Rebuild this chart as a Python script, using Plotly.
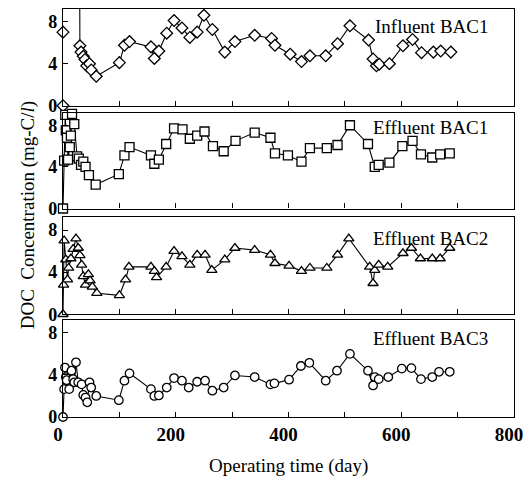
import plotly.graph_objects as go

# ---- data ----
inf1_iso_day = [0, 0]
inf1_iso_val = [0, 7.0]
inf1_day = [29, 30, 32, 36, 39, 42, 47, 50, 59, 100, 109, 118, 156, 162, 170, 184, 197, 211, 225, 238,
            250, 265, 287, 305, 340, 370, 376, 403, 423, 438, 466, 487, 509, 542, 550, 556, 561, 579,
            603, 620, 636, 657, 670, 688]
inf1_val = [20, 5.7, 5.1, 4.7, 4.4, 3.8, 4.0, 3.4, 2.8, 4.1, 5.75, 6.1, 5.6, 4.5, 5.2, 6.9, 8.1, 7.4, 6.5, 7.0,
            8.6, 7.25, 5.1, 6.1, 6.7, 6.4, 5.75, 4.9, 4.2, 4.75, 4.75, 5.9, 7.6, 6.25, 4.45, 3.8, 3.95, 4.0,
            5.7, 6.3, 5.05, 5.1, 5.2, 5.1]

eff1_day = [0, 2, 4, 5, 7, 9, 12, 14, 16, 20, 25, 28, 32, 36, 40, 46, 58, 99, 109, 118, 156, 162, 170,
            183, 197, 212, 225, 238, 251, 266, 285, 306, 340, 368, 376, 399, 423, 438, 468, 487, 509,
            541, 553, 560, 579, 602, 620, 635, 655, 669, 686]
eff1_val = [0, 4.6, 9.0, 7.5, 6.8, 4.7, 5.9, 7.0, 9.1, 8.1, 5.0, 4.8, 4.2, 4.5, 4.0, 3.2, 2.3, 3.3, 5.1, 5.9,
            5.1, 4.3, 4.7, 6.2, 7.7, 7.6, 6.7, 7.0, 7.4, 6.0, 5.5, 6.5, 7.3, 6.8, 5.3, 5.1, 4.5, 5.8, 5.8,
            6.1, 8.0, 6.2, 4.0, 4.2, 4.4, 6.0, 6.5, 5.2, 4.9, 5.2, 5.3]

eff2_day = [0, 1, 2, 5, 8, 10, 14, 18, 23, 27, 30, 33, 36, 40, 45, 48, 52, 60, 100, 111, 117, 156, 162,
            166, 183, 197, 211, 225, 238, 252, 264, 287, 305, 340, 368, 376, 401, 423, 438, 468, 487,
            507, 544, 550, 553, 560, 576, 603, 618, 634, 655, 669, 686]
eff2_val = [0, 2.8, 7.0, 5.2, 3.3, 4.4, 5.3, 6.2, 7.2, 6.3, 5.6, 4.7, 3.6, 2.8, 3.8, 3.2, 2.6, 2.0, 1.8,
            3.3, 4.5, 4.5, 4.1, 3.5, 4.5, 6.0, 5.5, 4.7, 5.65, 5.65, 4.2, 5.2, 6.3, 6.1, 5.65, 4.85, 4.6,
            4.1, 4.4, 4.4, 5.65, 7.2, 4.5, 2.95, 4.2, 4.7, 4.5, 5.8, 6.3, 5.3, 5.3, 5.3, 6.3]

eff3_day = [0, 2, 3.5, 5, 6.5, 11, 15, 18, 20, 23, 27, 33, 36, 40, 43, 47, 50, 59, 99, 109, 118, 156,
            162, 170, 184, 197, 211, 223, 238, 252, 265, 285, 305, 340, 368, 375, 401, 422, 437, 466,
            486, 509, 541, 550, 553, 560, 577, 601, 618, 635, 655, 667, 686]
eff3_val = [0, 2.65, 4.7, 3.8, 3.5, 2.65, 4.4, 3.6, 3.3, 5.2, 3.3, 3.1, 2.1, 1.85, 1.4, 3.3, 2.8, 2.0,
            1.6, 3.45, 4.15, 2.65, 2.0, 2.05, 2.8, 3.7, 3.45, 2.8, 3.35, 3.45, 2.5, 2.8, 3.95, 3.8, 3.1,
            3.2, 3.55, 4.85, 5.15, 3.45, 4.4, 6.0, 4.4, 3.0, 3.8, 3.6, 3.8, 4.6, 4.65, 3.6, 3.8, 4.3, 4.3]

panel_labels = ["Influent BAC1", "Effluent BAC1", "Effluent BAC2", "Effluent BAC3"]
y_ticks = [0, 4, 8]
x_ticks = [0, 200, 400, 600, 800]

SERIF = "Liberation Serif"
fig = go.Figure()

def mk(sym, size):
    return dict(symbol=sym, size=size, color="white", line=dict(color="black", width=1.3))

line = dict(color="black", width=1.1)

fig.add_trace(go.Scatter(x=inf1_iso_day, y=inf1_iso_val, mode="markers", marker=mk("diamond", 9),
                         xaxis="x", yaxis="y", cliponaxis=False))
fig.add_trace(go.Scatter(x=inf1_day, y=inf1_val, mode="lines+markers", marker=mk("diamond", 9), line=line,
                         xaxis="x", yaxis="y"))
fig.add_trace(go.Scatter(x=eff1_day, y=eff1_val, mode="lines+markers", marker=mk("square", 9), line=line,
                         xaxis="x2", yaxis="y2", cliponaxis=False))
fig.add_trace(go.Scatter(x=eff2_day, y=eff2_val, mode="lines+markers", marker=mk("triangle-up", 9), line=line,
                         xaxis="x3", yaxis="y3", cliponaxis=False))
fig.add_trace(go.Scatter(x=eff3_day, y=eff3_val, mode="lines+markers", marker=mk("circle", 8.5), line=line,
                         xaxis="x4", yaxis="y4", cliponaxis=False))

H = 409.0
domains = [[(417 - 105) / H, 1.0], [(417 - 208) / H, (417 - 112) / H],
           [(417 - 314) / H, (417 - 217) / H], [0.0, (417 - 320) / H]]
label_y = [7.5, 7.8, 7.2, 7.5]

xtickfont = dict(family=SERIF, size=19, color="black", weight="bold")
ytickfont = dict(family=SERIF, size=18, color="black", weight="bold")
layout = dict(
    width=531, height=484,
    margin=dict(l=63, r=14, t=8, b=67),
    paper_bgcolor="white", plot_bgcolor="white",
    showlegend=False,
    font=dict(family=SERIF, color="black"),
)
annotations = []
for i in range(4):
    sx = "" if i == 0 else str(i + 1)
    layout["xaxis" + sx] = dict(
        domain=[0, 1], anchor="y" + sx, range=[0, 800], tickvals=x_ticks,
        showticklabels=(i == 3), ticks="inside", ticklen=5, tickcolor="black",
        ticklabelshift=-5,
        minor=dict(dtick=100, ticks="inside", ticklen=5, tickcolor="black"),
        showline=True, linecolor="black", linewidth=1.3, mirror=True,
        showgrid=False, zeroline=False, tickfont=xtickfont,
    )
    layout["yaxis" + sx] = dict(
        domain=domains[i], anchor="x" + sx, range=[0, 9.2], tickvals=y_ticks,
        ticks="inside", ticklen=5, tickcolor="black", ticklabelstandoff=1,
        showline=True, linecolor="black", linewidth=1.3, mirror=True,
        showgrid=False, zeroline=False, tickfont=ytickfont,
    )
    annotations.append(dict(
        x=758, y=label_y[i], xref="x" + sx, yref="y" + sx, text=panel_labels[i],
        showarrow=False, xanchor="right", yanchor="middle",
        font=dict(family=SERIF, size=19, color="black"),
    ))

annotations.append(dict(x=0.5, y=-0.12, xref="paper", yref="paper", text="Operating time (day)",
                        showarrow=False, xanchor="center", yanchor="middle",
                        font=dict(family=SERIF, size=19, color="black")))
annotations.append(dict(x=-0.077, y=0.495, xref="paper", yref="paper", text="DOC  Concentration (mg-C/<i>l</i>)",
                        showarrow=False, xanchor="center", yanchor="middle", textangle=-90,
                        font=dict(family=SERIF, size=19, color="black")))
layout["annotations"] = annotations
fig.update_layout(**layout)

fig.write_html("out.html")
